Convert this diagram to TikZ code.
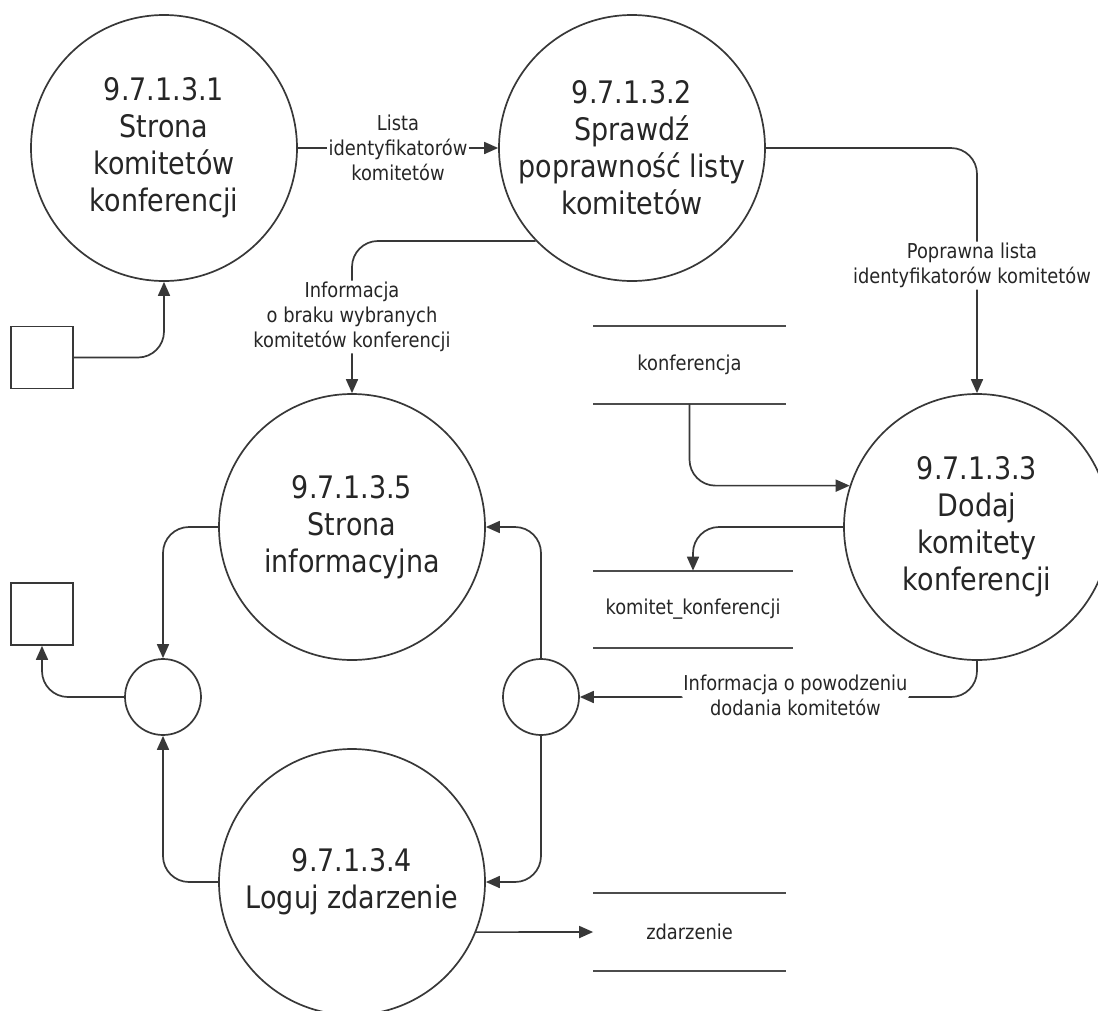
\documentclass[tikz,border=0pt]{standalone}
\usepackage{fontspec}
\setmainfont{DejaVu Sans}[FakeStretch=0.87]
\usetikzlibrary{arrows.meta}
\begin{document}
\begin{tikzpicture}[x=1pt,y=-1pt, line width=1.7pt, draw=black!78, text=black!85,
  proc/.style={circle, draw, minimum size=266pt, inner sep=0pt, align=center, font=\fontsize{31}{37}\selectfont},
  junc/.style={circle, draw, minimum size=76pt, inner sep=0pt},
  ext/.style={draw, minimum size=62pt, inner sep=0pt},
  store/.style={minimum width=191pt, minimum height=76pt, inner sep=0pt, font=\fontsize{20.5}{25}\selectfont},
  lbl/.style={align=center, fill=white, inner sep=1.5pt, font=\fontsize{20.5}{25}\selectfont},
  arr/.style={-{Triangle[length=14pt,width=12pt]}, rounded corners=26pt},
  storeline/.style={line width=1.8pt, draw=black!70}
]
\path[use as bounding box] (0,0) rectangle (1098,1010);
\fill[white] (0,0) rectangle (1098,1010);

\node[proc] (P1) at (164,148) {9.7.1.3.1\\Strona\\komitetów\\konferencji};
\node[proc] (P2) at (632,148) {9.7.1.3.2\\Sprawdź\\poprawność listy\\komitetów};
\node[proc] (P3) at (977,527) {9.7.1.3.3\\Dodaj\\komitety\\konferencji};
\node[proc] (P5) at (352,527) {9.7.1.3.5\\Strona\\informacyjna};
\node[proc] (P4) at (352,882) {9.7.1.3.4\\Loguj zdarzenie};

\node[junc] (J1) at (163,697) {};
\node[junc] (J2) at (541,697) {};

\node[ext] (B1) at (42,357.5) {};
\node[ext] (B2) at (42,614) {};

\node[store] (S1) at (689.5,365) {konferencja};
\node[store, minimum width=198pt] (S2) at (693,609.5) {komitet\_konferencji};
\node[store] (S3) at (689.5,932) {zdarzenie};
\foreach \s in {S1,S2,S3}{
  \draw[storeline] (\s.north west) -- (\s.north east);
  \draw[storeline] (\s.south west) -- (\s.south east);
}

\draw[arr] (P1.east) -- node[lbl]{Lista\\identyfikatorów\\komitetów} (P2.west);
\draw[arr] (B1.east) -| (P1.south);
\draw[arr] (P2.224) -| node[lbl, pos=0.75]{Informacja\\o braku wybranych\\komitetów konferencji} (P5.north);
\draw[arr] (P2.east) -| node[lbl, pos=0.75, xshift=-5pt, yshift=5pt]{Poprawna lista\\identyfikatorów komitetów} (P3.north);
\draw[arr] (S1.south) |- (P3.162);
\draw[arr] (P3.west) -| (S2.north);
\draw[arr] (P3.south) |- node[lbl, pos=0.75, xshift=17pt, yshift=2pt]{Informacja o powodzeniu\\dodania komitetów} (J2.east);
\draw[arr] (J2.north) |- (P5.east);
\draw[arr] (J2.south) |- (P4.east);
\draw[arr] (P5.west) -| (J1.north);
\draw[arr] (P4.west) -| (J1.south);
\draw[arr] (J1.west) -| (B2.south);
\draw[arr] (P4.-22) -- (S3.west);
\end{tikzpicture}
\end{document}
